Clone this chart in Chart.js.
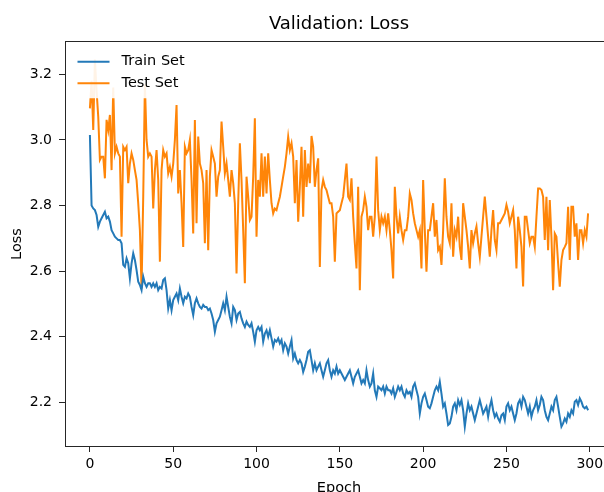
<!DOCTYPE html>
<html>
<head>
<meta charset="utf-8">
<script src="https://cdn.jsdelivr.net/npm/chart.js@4.4.0/dist/chart.umd.min.js"></script>
<style>
html,body{margin:0;padding:0;background:#fff;overflow:hidden;}
#wrap{width:604px;height:492px;overflow:hidden;}
canvas{display:block;}
</style>
</head>
<body>
<div id="wrap"><canvas id="loss-chart" width="613" height="492"></canvas></div>
<script>
// ===================== DATA =====================
const xTicks = [0,50,100,150,200,250,300];
const yTicks = [2.2,2.4,2.6,2.8,3.0,3.2];

const trainLoss = [
  3.015,2.800,2.791,2.786,2.771,2.735,2.751,2.761,2.771,2.781,
  2.761,2.766,2.751,2.725,2.715,2.705,2.700,2.695,2.695,2.685,
  2.619,2.613,2.639,2.624,2.578,2.624,2.654,2.634,2.603,2.568,
  2.558,2.542,2.583,2.563,2.552,2.563,2.563,2.552,2.563,2.552,
  2.563,2.542,2.552,2.547,2.573,2.578,2.542,2.486,2.512,2.481,
  2.512,2.522,2.532,2.512,2.547,2.522,2.502,2.522,2.517,2.532,
  2.522,2.491,2.466,2.502,2.517,2.502,2.491,2.486,2.497,2.491,
  2.491,2.481,2.486,2.471,2.451,2.415,2.441,2.451,2.461,2.481,
  2.502,2.481,2.522,2.491,2.461,2.441,2.491,2.481,2.451,2.471,
  2.476,2.456,2.441,2.430,2.446,2.436,2.430,2.441,2.415,2.385,
  2.420,2.430,2.420,2.430,2.385,2.410,2.420,2.400,2.420,2.395,
  2.370,2.390,2.385,2.395,2.380,2.390,2.359,2.380,2.370,2.349,
  2.370,2.390,2.334,2.349,2.329,2.319,2.329,2.319,2.293,2.309,
  2.329,2.354,2.359,2.329,2.298,2.319,2.298,2.309,2.319,2.298,
  2.278,2.298,2.319,2.329,2.298,2.278,2.298,2.288,2.309,2.288,
  2.298,2.288,2.278,2.268,2.278,2.288,2.298,2.278,2.258,2.278,
  2.288,2.298,2.278,2.258,2.268,2.258,2.298,2.268,2.248,2.258,
  2.288,2.237,2.217,2.248,2.243,2.237,2.248,2.227,2.248,2.237,
  2.237,2.227,2.243,2.217,2.232,2.248,2.237,2.248,2.227,2.217,
  2.237,2.227,2.232,2.217,2.248,2.258,2.237,2.217,2.166,2.197,
  2.217,2.227,2.207,2.187,2.182,2.197,2.217,2.237,2.248,2.237,
  2.263,2.227,2.187,2.197,2.166,2.131,2.136,2.156,2.187,2.197,
  2.176,2.207,2.192,2.207,2.176,2.126,2.166,2.197,2.176,2.187,
  2.166,2.146,2.166,2.187,2.207,2.187,2.166,2.176,2.187,2.156,
  2.187,2.207,2.176,2.156,2.166,2.151,2.141,2.161,2.166,2.146,
  2.187,2.197,2.176,2.187,2.166,2.146,2.166,2.197,2.207,2.187,
  2.217,2.207,2.187,2.166,2.187,2.156,2.176,2.187,2.207,2.176,
  2.192,2.217,2.207,2.176,2.156,2.146,2.166,2.187,2.176,2.207,
  2.217,2.187,2.156,2.126,2.136,2.151,2.141,2.166,2.156,2.176,
  2.166,2.202,2.207,2.192,2.212,2.202,2.187,2.182,2.187,2.176
];

const testLoss = [
  3.096,3.180,3.030,3.245,3.150,3.071,2.939,2.949,2.949,2.883,
  3.061,3.030,3.076,2.908,3.160,2.959,2.979,2.959,2.949,2.705,
  2.979,2.969,2.979,2.868,2.928,2.959,2.939,2.908,2.878,2.807,
  2.725,2.547,2.827,3.170,3.000,2.949,2.959,2.949,2.791,2.908,
  2.969,2.878,2.629,2.908,2.969,2.949,2.959,2.898,2.918,2.888,
  2.928,3.000,3.106,2.837,2.908,2.807,2.674,2.979,2.959,2.969,
  3.000,2.878,2.715,3.061,2.746,3.010,2.928,2.908,2.868,2.685,
  2.908,2.664,2.888,2.969,2.949,2.928,2.827,2.888,2.908,3.056,
  2.979,2.898,2.928,2.878,2.827,2.908,2.868,2.807,2.593,2.807,
  2.990,2.878,2.725,2.563,2.888,2.827,2.756,2.766,2.888,3.066,
  2.705,2.878,2.827,2.959,2.827,2.949,2.837,2.959,2.878,2.807,
  2.776,2.791,2.786,2.807,2.827,2.857,2.888,2.918,2.959,3.010,
  2.969,2.990,2.949,2.807,2.939,2.751,2.857,2.979,2.766,2.969,
  2.857,2.928,2.868,3.012,2.979,2.857,2.908,2.944,2.613,2.847,
  2.878,2.857,2.847,2.827,2.807,2.807,2.766,2.629,2.776,2.781,
  2.786,2.807,2.827,2.878,2.928,2.827,2.817,2.883,2.766,2.685,
  2.608,2.857,2.542,2.766,2.786,2.827,2.796,2.725,2.766,2.766,
  2.705,2.766,2.949,2.786,2.725,2.766,2.746,2.766,2.725,2.776,
  2.725,2.664,2.578,2.857,2.766,2.715,2.766,2.725,2.695,2.725,
  2.725,2.766,2.837,2.817,2.776,2.746,2.725,2.705,2.725,2.608,
  2.878,2.725,2.598,2.725,2.725,2.766,2.807,2.705,2.756,2.664,
  2.674,2.619,2.725,2.883,2.766,2.705,2.685,2.807,2.644,2.725,
  2.705,2.766,2.674,2.634,2.807,2.766,2.725,2.674,2.608,2.725,
  2.685,2.715,2.736,2.685,2.644,2.705,2.766,2.827,2.766,2.705,
  2.644,2.725,2.786,2.695,2.664,2.746,2.746,2.756,2.766,2.776,
  2.802,2.781,2.746,2.766,2.786,2.725,2.608,2.766,2.725,2.674,
  2.553,2.766,2.766,2.725,2.685,2.705,2.705,2.674,2.766,2.852,
  2.852,2.847,2.827,2.695,2.827,2.664,2.817,2.705,2.542,2.715,
  2.705,2.624,2.553,2.634,2.664,2.674,2.685,2.796,2.634,2.796,
  2.796,2.705,2.746,2.634,2.725,2.725,2.685,2.725,2.705,2.776
];

// ===================== CHART =====================
const FONT = "'DejaVu Sans', sans-serif";

// ── frame: matplotlib style box round the axes (right side is off the page) ──
const mplFrame = {
  id: 'mplFrame',
  afterDatasetsDraw(chart){
    const {ctx, chartArea:a} = chart;
    const l = Math.round(a.left)+0.5, t = Math.round(a.top)+0.5;
    const r = Math.round(a.right)-0.5, b = Math.round(a.bottom)-0.5;
    ctx.save();
    ctx.strokeStyle = '#262626'; ctx.lineWidth = 1;
    ctx.strokeRect(l, t, r-l, b-t);
    ctx.restore();
  }
};

// ── legend inside the axes, drawn over the lines (upper left) ──
const mplLegend = {
  id: 'mplLegend',
  afterDraw(chart){
    const {ctx, chartArea:a} = chart;
    const sets = chart.data.datasets;
    const x0 = a.left+7, y0 = a.top+7, rowH = 21.6;
    const w = 124, h = sets.length*rowH + 6.5;
    ctx.save();
    ctx.beginPath();
    ctx.roundRect(x0+0.5, y0+0.5, w, h, 3);
    ctx.fillStyle = 'rgba(255,255,255,0.9)'; ctx.fill();
    ctx.font = `14.5px ${FONT}`; ctx.textBaseline = 'middle';
    sets.forEach((d,i)=>{
      const cy = y0 + 13.7 + i*rowH;
      ctx.beginPath();
      ctx.moveTo(x0+5.5, cy); ctx.lineTo(x0+37.5, cy);
      ctx.strokeStyle = d.borderColor; ctx.lineWidth = d.borderWidth; ctx.stroke();
      ctx.fillStyle = '#000';
      ctx.fillText(d.label, x0+49.5, cy);
    });
    ctx.restore();
  }
};

const axisFont = {family: FONT, size: 14};

new Chart(document.getElementById('loss-chart').getContext('2d'), {
  type: 'line',
  data: {datasets: [
    {label:'Train Set', data: trainLoss.map((v,i)=>({x:i, y:v})), borderColor:'#2379b8', borderWidth:2, pointRadius:0, tension:0, fill:false},
    {label:'Test Set',  data: testLoss.map((v,i)=>({x:i, y:v})),  borderColor:'#ff8508', borderWidth:2, pointRadius:0, tension:0, fill:false}
  ]},
  options: {
    responsive:false, animation:false, events:[],
    layout:{padding:0},
    plugins:{
      legend:{display:false},
      tooltip:{enabled:false},
      title:{display:true, text:'Validation: Loss', fullSize:false, color:'#000',
             font:{family:FONT, size:18, weight:'normal'}, padding:{top:14, bottom:5.4}}
    },
    scales:{
      x:{type:'linear', min:-14.95, max:313.95,
         afterFit: s=>{ s.height = 45; },
         afterBuildTicks: s=>{ s.ticks = xTicks.map(v=>({value:v})); },
         grid:{drawOnChartArea:false, tickLength:5, color:'#262626'},
         border:{display:false},
         ticks:{color:'#000', font:axisFont, padding:4, maxRotation:0, autoSkip:false},
         title:{display:true, text:'Epoch', color:'#000', font:{family:FONT, size:14.5}, padding:{top:0, bottom:-5}}},
      y:{type:'linear', min:2.064, max:3.3015,
         afterFit: s=>{ s.width = 65; },
         afterBuildTicks: s=>{ s.ticks = yTicks.map(v=>({value:v})); },
         grid:{drawOnChartArea:false, tickLength:6, color:'#262626'},
         border:{display:false},
         ticks:{color:'#000', font:axisFont, padding:7, callback: v=>v.toFixed(1)},
         title:{display:true, text:'Loss', color:'#000', font:{family:FONT, size:14.5}, padding:{top:9, bottom:0}}}
    }
  },
  plugins:[mplFrame, mplLegend]
});
</script>
</body>
</html>
